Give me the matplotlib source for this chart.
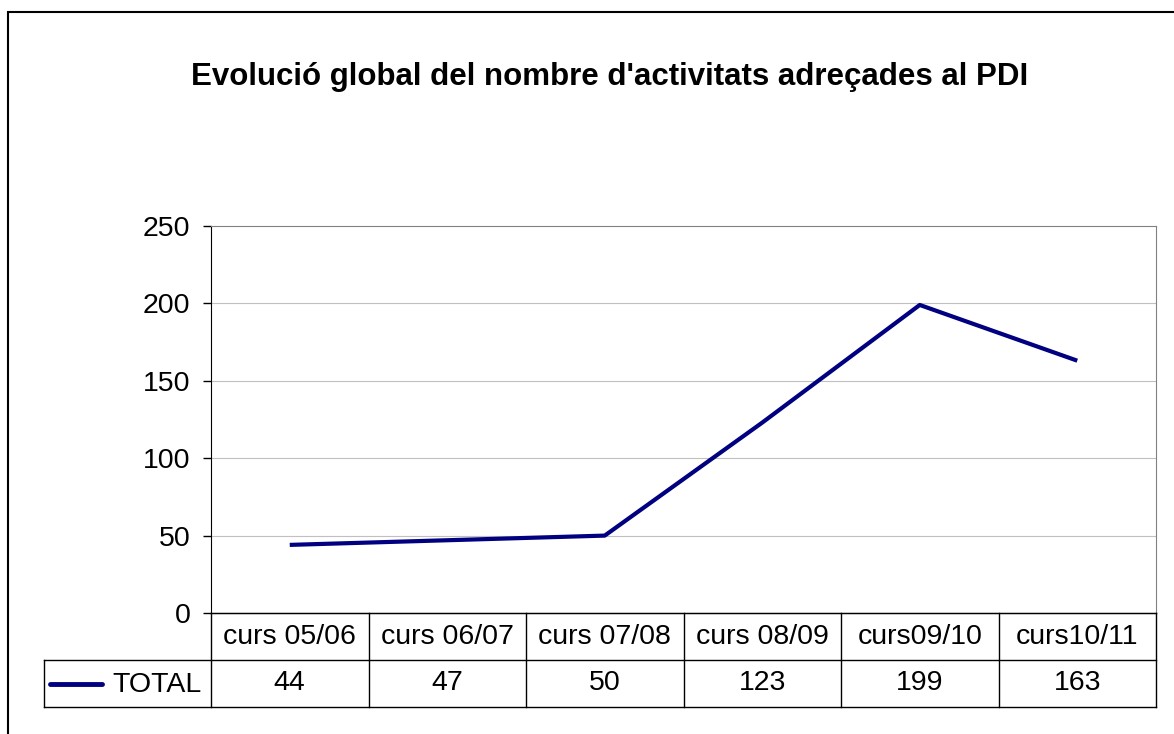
import matplotlib.pyplot as plt
from matplotlib.patches import Rectangle

plt.rcParams['font.family'] = ['Liberation Sans', 'DejaVu Sans']

title = "Evolució global del nombre d'activitats adreçades al PDI"
courses = ['curs 05/06', 'curs 06/07', 'curs 07/08', 'curs 08/09', 'curs09/10', 'curs10/11']
totals = [44, 47, 50, 123, 199, 163]
series_name = 'TOTAL'
yticks = [0, 50, 100, 150, 200, 250]

W, H = 1174, 734
fig = plt.figure(figsize=(W / 100, H / 100), dpi=100)

# pixel positions of the plot area (from the reference)
left, right, top, bottom = 211, 1156, 226, 613
row_h = 47

# outer chart border (right and bottom run off the image)
fig.patches.append(Rectangle((8 / W, -0.05), 1.1, (H - 12) / H + 0.05,
                             transform=fig.transFigure, fill=False,
                             edgecolor='black', linewidth=1.5))

fig.text(610 / W, 1 - 77 / H, title, ha='center', va='center',
         fontsize=22.5, fontweight='bold')

ax = fig.add_axes([left / W, 1 - bottom / H, (right - left) / W, (bottom - top) / H])
n = len(courses)
xs = [i + 0.5 for i in range(n)]
ax.plot(xs, totals, color='#000080', linewidth=3, solid_capstyle='butt')
ax.set_xlim(0, n)
ax.set_ylim(0, 250)
ax.set_yticks(yticks)
ax.set_xticks([])
ax.tick_params(axis='y', labelsize=20.5, length=5.8, width=1, pad=9)
for v in yticks[1:-1]:
    ax.axhline(v, color='#c0c0c0', linewidth=0.8, zorder=0)
ax.spines['top'].set_color('#808080')
ax.spines['right'].set_color('#808080')
ax.spines['left'].set_color('black')
ax.spines['bottom'].set_color('black')

# data table below the plot
tab = fig.add_axes([left / W, 1 - (bottom + 2 * row_h) / H, (right - left) / W, 2 * row_h / H])
tab.set_xlim(0, n)
tab.set_ylim(0, 2)
tab.axis('off')
col_w = (right - left) / n
leg_x = -(left - 44) / col_w
lw = 1
# horizontal lines
tab.plot([0, n], [2, 2], color='black', lw=lw, clip_on=False)
tab.plot([leg_x, n], [1, 1], color='black', lw=lw, clip_on=False)
tab.plot([leg_x, n], [0, 0], color='black', lw=lw, clip_on=False)
# vertical lines
for i in range(n + 1):
    tab.plot([i, i], [0, 2], color='black', lw=lw, clip_on=False)
tab.plot([leg_x, leg_x], [0, 1], color='black', lw=lw, clip_on=False)

for i, (c, v) in enumerate(zip(courses, totals)):
    tab.text(i + 0.5, 1.5, c, ha='center', va='center', fontsize=20.5)
    tab.text(i + 0.5, 0.5, str(v), ha='center', va='center', fontsize=20.5)

tab.plot([leg_x + 0.04, leg_x + 0.37], [0.5, 0.5], color='#000080', lw=3.5,
         solid_capstyle='round', clip_on=False)
tab.text(-0.06, 0.47, series_name, ha='right', va='center', fontsize=20.5)

fig.savefig('out.png', dpi=100)
